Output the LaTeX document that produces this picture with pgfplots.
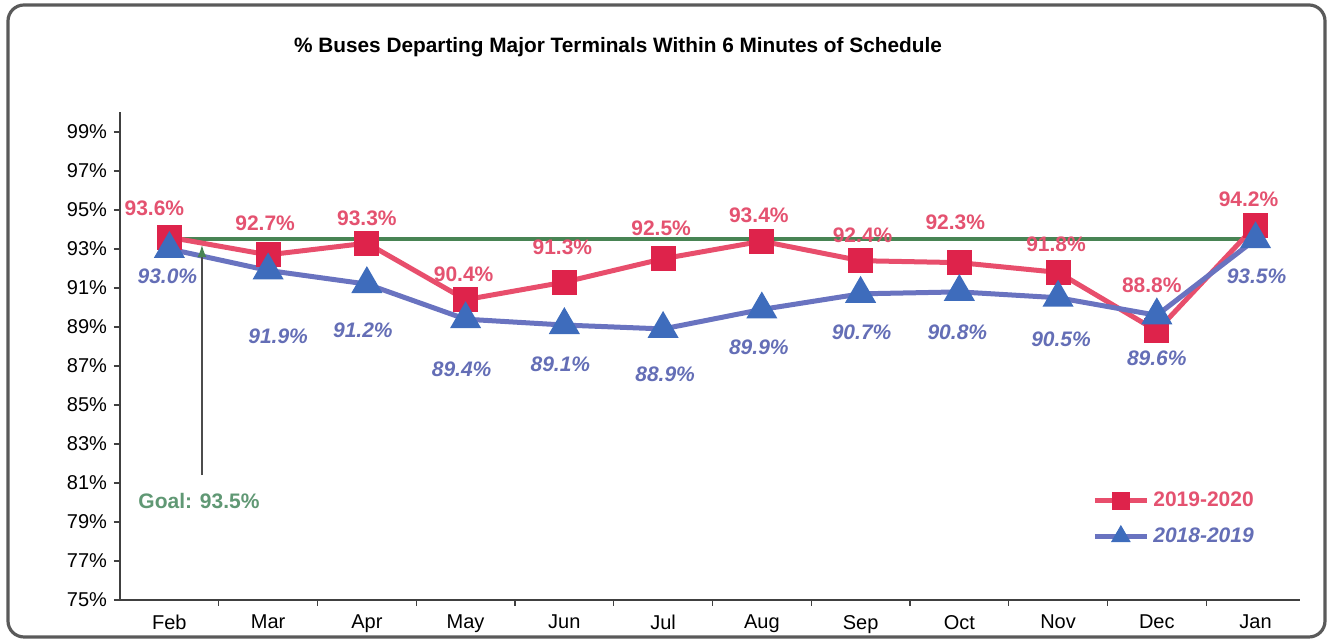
\documentclass[border=0pt]{standalone}
\usepackage{fontspec}
\setmainfont{Liberation Sans}
\usepackage{pgfplots}
\usepackage{pgfplotstable}
\usetikzlibrary{arrows.meta}
\pgfplotsset{compat=1.18}

\definecolor{redline}{RGB}{232,78,108}
\definecolor{redmark}{RGB}{222,35,75}
\definecolor{redlab}{RGB}{228,82,112}
\definecolor{blueline}{RGB}{105,115,192}
\definecolor{bluemark}{RGB}{62,108,188}
\definecolor{bluelab}{RGB}{100,110,182}
\definecolor{goalline}{RGB}{72,132,84}
\definecolor{goaltext}{RGB}{96,152,116}
\definecolor{framecol}{RGB}{90,90,90}

% x = month index (Feb..Jan), dx/dy = label offset in pt
\pgfplotstableread{
x  y     dx    dy
0  93.6  -7.5  14.5
1  92.7  -1.5  16
2  93.3   0    12.5
3  90.4  -1    12.5
4  91.3  -1    17.5
5  92.5  -1    15
6  93.4  -1.5  13
7  92.4   1    12.5
8  92.3  -2    20
9  91.8  -1    14
10 88.8  -2.5  23
11 94.2  -3.5  13
}\redtab

\pgfplotstableread{
x  y     dx    dy
0  93.0  -1   -13.5
1  91.9   5   -33
2  91.2  -2   -23
3  89.4  -2   -25
4  89.1  -2   -19.5
5  88.9   1   -22.5
6  89.9  -1.5 -19
7  90.7   0.5 -19
8  90.8  -1   -20
9  90.5   1.5 -21
10 89.6   0   -21.5
11 93.5   0.5 -18.5
}\bluetab

\pgfplotsset{
  pctlabels/.style={
    visualization depends on={\thisrow{dx}\as\dx},
    visualization depends on={\thisrow{dy}\as\dy},
    nodes near coords={\pgfmathprintnumber[assume math mode=true,fixed,fixed zerofill,precision=1]{\pgfplotspointmeta}\%},
    every node near coord/.append style={anchor=center, xshift={\dx*1pt}, yshift={\dy*1pt}},
  },
}

\begin{document}
\begin{tikzpicture}
\useasboundingbox (0,0) rectangle (665pt,320pt);
\draw[framecol, line width=1.6pt, rounded corners=8pt] (4pt,1.5pt) rectangle (662.5pt,317.5pt);
\node[font=\bfseries\fontsize{10.4}{12}\selectfont] at (309pt,296.5pt)
  {\% Buses Departing Major Terminals Within 6 Minutes of Schedule};

\begin{axis}[
  at={(60pt,20pt)}, anchor=south west,
  scale only axis, width=590pt, height=243.75pt,
  xmin=-0.5, xmax=11.45, ymin=75, ymax=100,
  axis x line*=bottom, axis y line*=left,
  axis line style={black!75, line width=0.8pt},
  xtick={0,...,11},
  xticklabels={Feb,Mar,Apr,May,Jun,Jul,Aug,Sep,Oct,Nov,Dec,Jan},
  major x tick style={draw=none},
  minor xtick={0.5,1.5,...,10.5},
  minor tick length=3pt,
  ytick={75,77,...,99},
  yticklabel={\pgfmathprintnumber[assume math mode=true]{\tick}\%},
  tick align=outside, major tick length=3pt,
  tick style={black!75, line width=0.6pt},
  ticklabel style={font=\fontsize{10}{12}\selectfont},
  x tick label style={yshift=-1pt},
  clip=false,
  legend style={at={(0.822,0.235)}, anchor=north west, draw=none, fill=none,
    font=\bfseries\fontsize{10.5}{12}\selectfont, row sep=5pt,
    inner sep=1pt},
  legend cell align=left,
  legend image code/.code={
    \draw[#1, mark size=3.2pt, mark repeat=2, mark phase=2]
      plot coordinates {(0pt,0pt) (13pt,0pt) (26pt,0pt)};},
]

% goal line
\addplot[goalline, line width=2pt, forget plot] coordinates {(0,93.5) (11,93.5)};

\addplot[redline, line width=2.5pt, mark=square*, mark size=5pt,
  mark options={redmark, fill=redmark}, pctlabels,
  every node near coord/.append style={text=redlab, font=\bfseries\fontsize{10.5}{12}\selectfont}]
  table[x=x, y=y] {\redtab};
\addlegendentry{\textcolor{redlab}{2019-2020}}

\addplot[blueline, line width=2.5pt, mark=triangle*, mark size=6.5pt,
  mark options={bluemark, fill=bluemark}, pctlabels,
  every node near coord/.append style={text=bluelab, font=\bfseries\itshape\fontsize{10.5}{12}\selectfont}]
  table[x=x, y=y] {\bluetab};
\addlegendentry{\textcolor{bluelab}{\itshape 2018-2019}}

% goal pointer
\addplot[black!70, line width=0.7pt, forget plot,
  -{Latex[length=6pt,width=4.5pt,color=goalline]}] coordinates {(0.33,81.4) (0.33,93.2)};

\node[text=goaltext, font=\bfseries\fontsize{10.5}{12}\selectfont] at (axis cs:0.3,80.1) {Goal: 93.5\%};
\end{axis}
\end{tikzpicture}
\end{document}
